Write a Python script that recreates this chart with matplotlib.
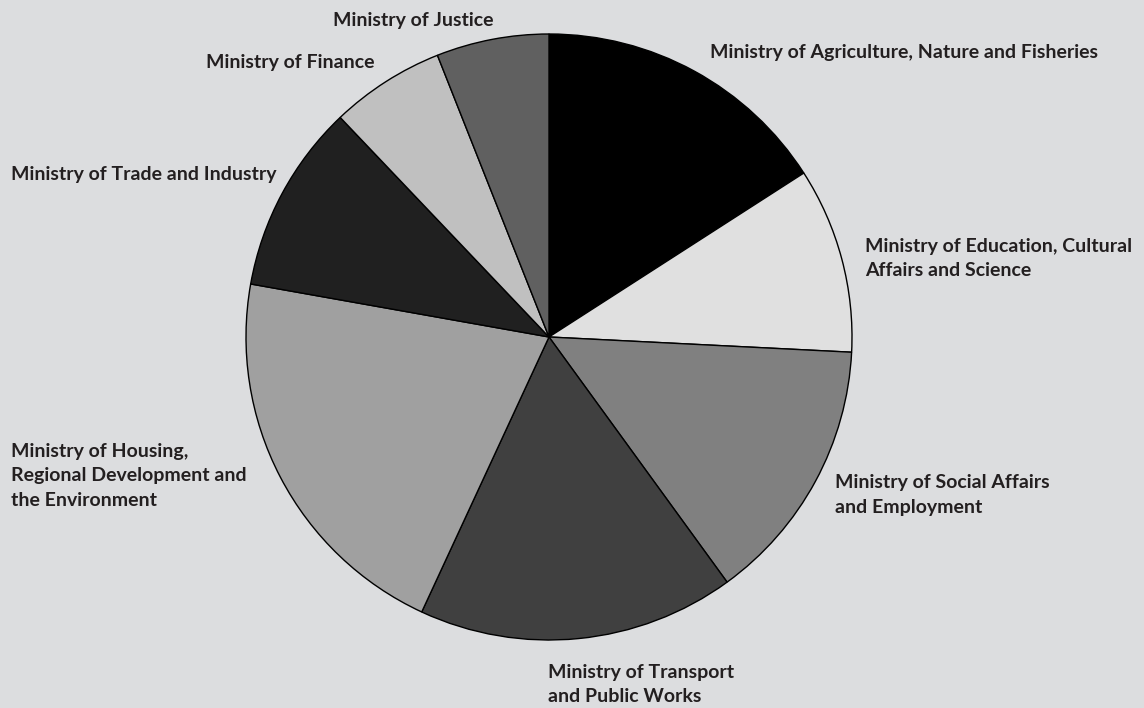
import matplotlib
matplotlib.use("Agg")
import matplotlib.pyplot as plt

# ministries, clockwise from 12 o'clock (share of total, %)
ministries = [
    "Ministry of Agriculture, Nature and Fisheries",
    "Ministry of Education, Cultural\nAffairs and Science",
    "Ministry of Social Affairs\nand Employment",
    "Ministry of Transport\nand Public Works",
    "Ministry of Housing,\nRegional Development and\nthe Environment",
    "Ministry of Trade and Industry",
    "Ministry of Finance",
    "Ministry of Justice",
]
shares = [15.9, 9.9, 14.2, 16.9, 20.9, 10.1, 6.1, 6.0]
greys = ["#000000", "#e0e0e0", "#808080", "#404040",
         "#a0a0a0", "#202020", "#c0c0c0", "#606060"]

# label left edge and first-line baseline, pixels from top-left
label_pos = [(710, 58), (865, 252), (835, 488), (548, 678),
             (11, 457), (11, 180), (206, 68), (333, 26)]
line_step = 24.5

W, H = 1144, 708
bg = "#dcdddf"
fig = plt.figure(figsize=(W / 100, H / 100), dpi=100, facecolor=bg)

cx, cy, r = 549, 337, 303
ax = fig.add_axes([(cx - r) / W, (H - cy - r) / H, 2 * r / W, 2 * r / H])
ax.set_facecolor(bg)
ax.pie(shares, colors=greys, startangle=90, counterclock=False,
       wedgeprops=dict(edgecolor="black", linewidth=1.0))
ax.set_xlim(-1, 1)
ax.set_ylim(-1, 1)
ax.set_aspect("equal")
ax.axis("off")

for name, (px, py) in zip(ministries, label_pos):
    for i, line in enumerate(name.split("\n")):
        fig.text(px / W, 1 - (py + i * line_step) / H, line,
                 ha="left", va="baseline", fontsize=14,
                 fontweight="bold", family="Lato", color="#231f20")

fig.savefig("out.png", dpi=100, facecolor=bg)
